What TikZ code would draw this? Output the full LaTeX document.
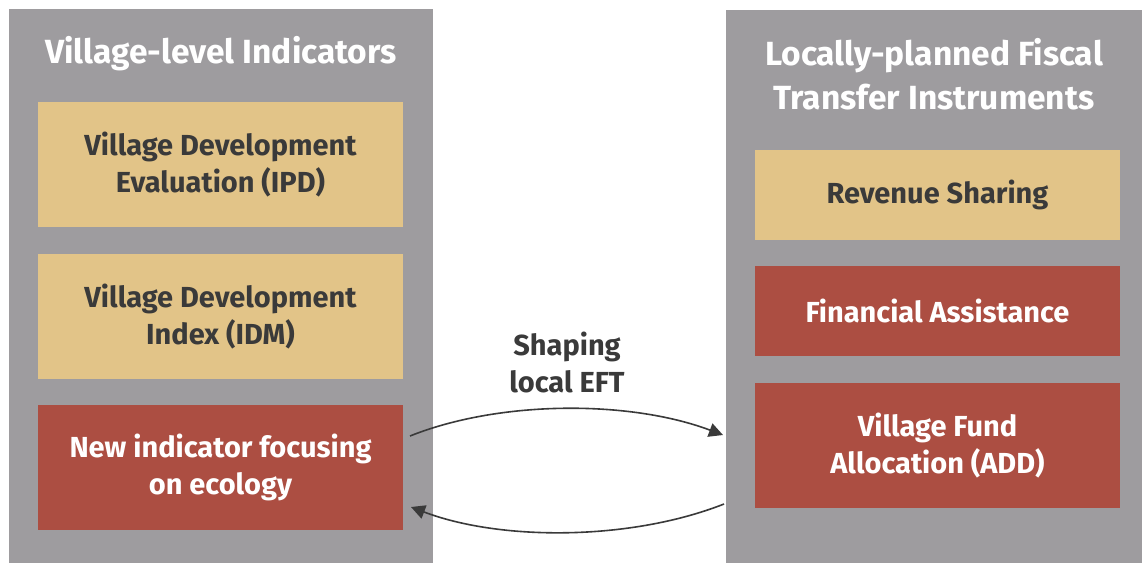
\documentclass[tikz,border=0pt]{standalone}
\usepackage{fontspec}
\setmainfont{Fira Sans}
\usetikzlibrary{arrows.meta}
\definecolor{panelgray}{HTML}{9E9C9F}
\definecolor{tan}{HTML}{E2C488}
\definecolor{brick}{HTML}{AC4E42}
\definecolor{ink}{HTML}{3A3A3A}
\tikzset{
  panel/.style={fill=panelgray, draw=none},
  tanbox/.style={fill=tan, draw=none, text=ink, font=\fontsize{29}{37}\selectfont\bfseries, align=center, inner sep=0pt},
  redbox/.style={fill=brick, draw=none, text=white, font=\fontsize{29}{37}\selectfont\bfseries, align=center, inner sep=0pt},
  title/.style={text=white, font=\fontsize{33.5}{44}\selectfont\bfseries, align=center},
  conn/.style={draw=ink, line width=1.6pt, -{Triangle[length=14pt,width=14pt]}},
}
\begin{document}
\begin{tikzpicture}[x=1pt,y=-1pt]
\useasboundingbox (0,0) rectangle (1142,563);
\fill[white] (0,0) rectangle (1142,563);
% panels
\path[panel] (9,9) rectangle (433,563);
\path[panel] (726,10) rectangle (1142,563);
\node[title] (lt) at (221,54) {Village-level Indicators};
\node[title] (rt) at (934,74) {Locally-planned Fiscal\\Transfer Instruments};
% left boxes
\node[tanbox, minimum width=365pt, minimum height=125pt] (ipd) at (220.5,164.5) {Village Development\\Evaluation (IPD)};
\node[tanbox, minimum width=365pt, minimum height=125pt] (idm) at (220.5,316.5) {Village Development\\Index (IDM)};
\node[redbox, minimum width=365pt, minimum height=125pt] (eco) at (220.5,467.5) {New indicator focusing\\on ecology};
% right boxes
\node[tanbox, minimum width=365pt, minimum height=90pt] (rev) at (937.5,195) {Revenue Sharing};
\node[redbox, minimum width=365pt, minimum height=90pt] (fin) at (937.5,311) {Financial Assistance};
\node[redbox, minimum width=365pt, minimum height=125pt] (add) at (937.5,445.5) {Village Fund\\Allocation (ADD)};
% label
\node[text=ink, font=\fontsize{29}{37}\selectfont\bfseries, align=center] (lbl) at (567,362) {Shaping\\local EFT};
% arrows
\coordinate (a1) at (410,436);
\coordinate (a2) at (723,435);
\coordinate (b1) at (724,504);
\coordinate (b2) at (411,507);
\draw[conn] (a1) .. controls (500,400) and (630,400) .. (a2);
\draw[conn] (b1) .. controls (630,541) and (500,541) .. (b2);
\end{tikzpicture}
\end{document}
